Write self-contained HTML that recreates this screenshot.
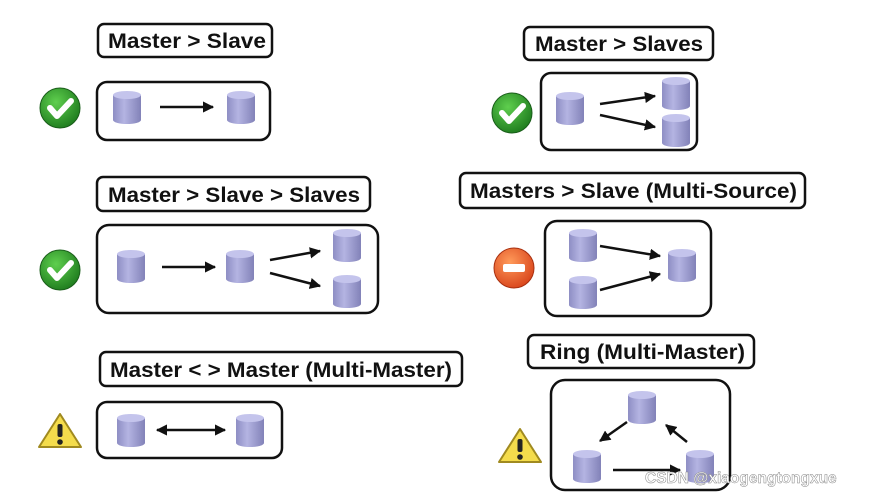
<!DOCTYPE html>
<html><head><meta charset="utf-8"><style>
html,body{margin:0;padding:0;background:#fff;}
svg{display:block}
text{font-family:"Liberation Sans",sans-serif;font-weight:bold;}
</style></head><body>
<svg width="878" height="495" viewBox="0 0 878 495" xmlns="http://www.w3.org/2000/svg">
<defs>
<linearGradient id="dbg" x1="0" x2="1">
<stop offset="0" stop-color="#8e8ec4"/><stop offset="0.4" stop-color="#b4b4e2"/><stop offset="1" stop-color="#8282b8"/>
</linearGradient>
<radialGradient id="gg" cx="0.4" cy="0.35" r="0.7"><stop offset="0" stop-color="#5fcf4e"/><stop offset="1" stop-color="#1d7a1d"/></radialGradient>
<radialGradient id="og" cx="0.4" cy="0.35" r="0.7"><stop offset="0" stop-color="#ff9a5a"/><stop offset="1" stop-color="#d8431a"/></radialGradient>
<marker id="ah" viewBox="0 0 10 10" refX="9" refY="5" markerWidth="4.5" markerHeight="4.5" orient="auto-start-reverse"><path d="M0,0 L10,5 L0,10 z" fill="#111"/></marker>
<g id="db">
<path d="M-14,-12 L-14,13 A14,4 0 0 0 14,13 L14,-12 Z" fill="url(#dbg)"/>
<ellipse cx="0" cy="-12" rx="14" ry="4" fill="#c4c4ec"/>
</g>
<g id="ok"><circle r="20" fill="url(#gg)" stroke="#1a5e1a" stroke-width="1"/><path d="M-10,0 L-3,8 L11,-7" stroke="#fff" stroke-width="6" fill="none" stroke-linecap="round" stroke-linejoin="round"/></g>
<g id="warn"><path d="M0,-18 L21,15 L-21,15 Z" fill="#f4dc4c" stroke="#a08a20" stroke-width="2" stroke-linejoin="round"/><rect x="-2.5" y="-8" width="5" height="13" rx="2" fill="#222"/><circle cy="10" r="2.8" fill="#222"/></g>
</defs>
<g fill="none" stroke="#111" stroke-width="2.5">
<rect x="98" y="24" width="174" height="33" rx="6"/>
<rect x="97" y="82" width="173" height="58" rx="10"/>
<rect x="97" y="177" width="273" height="34" rx="6"/>
<rect x="97" y="225" width="281" height="88" rx="12"/>
<rect x="100" y="352" width="362" height="34" rx="6"/>
<rect x="97" y="402" width="185" height="56" rx="10"/>
<rect x="524" y="27" width="189" height="33" rx="6"/>
<rect x="541" y="73" width="156" height="77" rx="10"/>
<rect x="460" y="173" width="345" height="35" rx="6"/>
<rect x="545" y="221" width="166" height="95" rx="12"/>
<rect x="528" y="335" width="226" height="33" rx="6"/>
<rect x="551" y="380" width="179" height="110" rx="14"/>
</g>
<g font-size="21" fill="#111" lengthAdjust="spacingAndGlyphs">
<text x="108" y="48" textLength="158" lengthAdjust="spacingAndGlyphs">Master &gt; Slave</text>
<text x="108" y="202" textLength="252" lengthAdjust="spacingAndGlyphs">Master &gt; Slave &gt; Slaves</text>
<text x="110" y="377" textLength="342" lengthAdjust="spacingAndGlyphs">Master &lt; &gt; Master (Multi-Master)</text>
<text x="535" y="51" textLength="168" lengthAdjust="spacingAndGlyphs">Master &gt; Slaves</text>
<text x="470" y="198" textLength="327" lengthAdjust="spacingAndGlyphs">Masters &gt; Slave (Multi-Source)</text>
<text x="540" y="359" textLength="205" lengthAdjust="spacingAndGlyphs">Ring (Multi-Master)</text>
</g>
<g>
<use href="#db" x="127" y="107"/><use href="#db" x="241" y="107"/>
<use href="#db" x="131" y="266"/><use href="#db" x="240" y="266"/><use href="#db" x="347" y="245"/><use href="#db" x="347" y="291"/>
<use href="#db" x="131" y="430"/><use href="#db" x="250" y="430"/>
<use href="#db" x="570" y="108"/><use href="#db" x="676" y="93"/><use href="#db" x="676" y="130"/>
<use href="#db" x="583" y="245"/><use href="#db" x="583" y="292"/><use href="#db" x="682" y="265"/>
<use href="#db" x="642" y="407"/><use href="#db" x="587" y="466"/><use href="#db" x="700" y="466"/>
</g>
<g stroke="#111" stroke-width="2.5" marker-end="url(#ah)">
<line x1="160" y1="107" x2="213" y2="107"/>
<line x1="162" y1="267" x2="215" y2="267"/>
<line x1="270" y1="260" x2="320" y2="251"/>
<line x1="270" y1="273" x2="320" y2="286"/>
<line x1="157" y1="430" x2="225" y2="430" marker-start="url(#ah)"/>
<line x1="600" y1="104" x2="655" y2="96"/>
<line x1="600" y1="115" x2="655" y2="127"/>
<line x1="600" y1="246" x2="660" y2="256"/>
<line x1="600" y1="290" x2="660" y2="274"/>
<line x1="627" y1="422" x2="600" y2="441"/>
<line x1="687" y1="442" x2="666" y2="425"/>
<line x1="613" y1="470" x2="680" y2="470"/>
</g>
<use href="#ok" x="60" y="108"/>
<use href="#ok" x="60" y="270"/>
<use href="#ok" x="512" y="113"/>
<g transform="translate(514,268)"><circle r="20" fill="url(#og)" stroke="#a83010"/><rect x="-11" y="-4" width="22" height="8" rx="2" fill="#fff"/></g>
<use href="#warn" x="60" y="432"/>
<use href="#warn" x="520" y="447"/>
<text x="645" y="483" font-size="15.5" font-weight="normal" fill="#fff" stroke="#888" stroke-width="0.5">CSDN @xiaogengtongxue</text>
</svg>
</body></html>
